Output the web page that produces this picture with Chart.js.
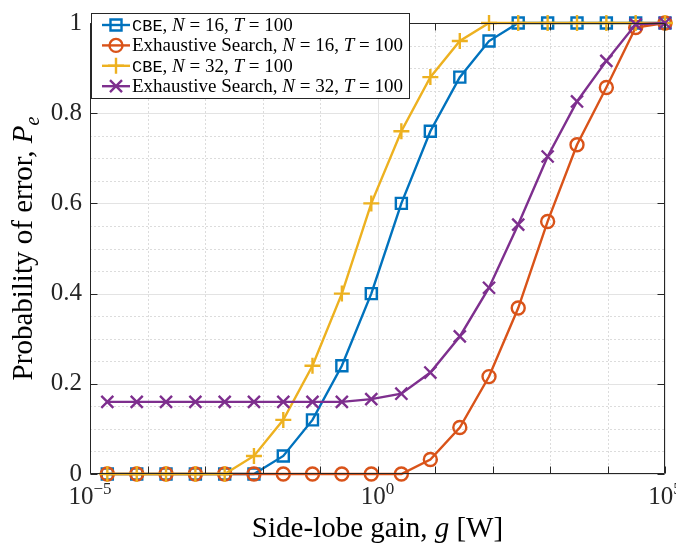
<!DOCTYPE html>
<html>
<head>
<meta charset="utf-8">
<script src="https://cdn.jsdelivr.net/npm/chart.js@4.4.0/dist/chart.umd.min.js"></script>
<style>
  html, body { margin: 0; padding: 0; background: #fff; }
</style>
</head>
<body>
<canvas id="c" width="676" height="548"></canvas>
<script>
// 旁瓣增益 g [W]（横轴，对数刻度）
const gainW = [2.0e-5, 6.5e-5, 2.1e-4, 6.8e-4, 2.2e-3, 7.1e-3, 2.3e-2, 7.4e-2, 0.24, 0.78,
               2.6, 8.3, 27, 87, 280, 910, 2950, 9550, 30900, 1e5];

// 误差概率 Pe
const peCbe16 = [0, 0, 0, 0, 0, 0, 0.04, 0.12, 0.24, 0.40, 0.60, 0.76, 0.88, 0.96, 1, 1, 1, 1, 1, 1];
const peEs16  = [0, 0, 0, 0, 0, 0, 0, 0, 0, 0, 0, 0.032, 0.103, 0.216, 0.368, 0.56, 0.73, 0.857, 0.99, 1];
const peCbe32 = [0, 0, 0, 0, 0, 0.04, 0.12, 0.24, 0.40, 0.60, 0.76, 0.88, 0.96, 1, 1, 1, 1, 1, 1, 1];
const peEs32  = [0.16, 0.16, 0.16, 0.16, 0.16, 0.16, 0.16, 0.16, 0.16, 0.166, 0.178, 0.225, 0.305, 0.413,
                 0.553, 0.704, 0.826, 0.916, 0.997, 1];

// 图例
const methodNames = ['CBE', 'Exhaustive Search', 'CBE', 'Exhaustive Search'];
const antennaN = [16, 16, 32, 32];
const slotsT = 100;

// 刻度
const xDecades = [-5, -4, -3, -2, -1, 0, 1, 2, 3, 4, 5];
const xLabelExp = [-5, 0, 5];
const yMajor = [0, 0.2, 0.4, 0.6, 0.8, 1];
const yMinorStep = 0.05;

const SERIF = "'Liberation Serif', 'DejaVu Serif', serif";
const MONO = "'Liberation Mono', 'DejaVu Sans Mono', monospace";
const AXIS = '#262626';
const COLORS = ['#0072BD', '#D95319', '#EDB120', '#7E2F8E'];
const STYLES = [
    { pointStyle: 'rect', radius: 7.8 },
    { pointStyle: 'circle', radius: 6.5 },
    { pointStyle: 'cross', radius: 8 },
    { pointStyle: 'crossRot', radius: 8.5 }
];

function series(i, values) {
    return {
        label: methodNames[i] + ', N = ' + antennaN[i] + ', T = ' + slotsT,
        data: values.map((v, k) => ({ x: gainW[k], y: v })),
        borderColor: COLORS[i],
        backgroundColor: 'rgba(0,0,0,0)',
        borderWidth: 2.4,
        pointStyle: STYLES[i].pointStyle,
        pointRadius: STYLES[i].radius,
        pointBorderWidth: 2.4,
        pointBorderColor: COLORS[i],
        pointBackgroundColor: 'rgba(0,0,0,0)',
        tension: 0,
        clip: false,
        order: 4 - i   // 后画的在上层，和 MATLAB 一致
    };
}

function drawRuns(ctx, runs, x, y, align) {
    let w = 0;
    runs.forEach(r => { ctx.font = r.font; w += ctx.measureText(r.text).width; });
    let cx = align === 'center' ? x - w / 2 : x;
    runs.forEach(r => {
        ctx.font = r.font;
        ctx.fillText(r.text, cx, y + (r.dy || 0));
        cx += ctx.measureText(r.text).width;
    });
}

const matlabAxes = {
    id: 'matlabAxes',
    beforeDatasetsDraw(chart) {
        const { ctx, chartArea: a, scales: { x, y } } = chart;
        ctx.save();
        ctx.lineWidth = 1;
        // 次网格（虚线）
        ctx.strokeStyle = '#dcdcdc';
        ctx.setLineDash([2, 2]);
        ctx.beginPath();
        const nMinor = Math.round(1 / yMinorStep);
        for (let i = 1; i < nMinor; i++) {
            if (i % 4 === 0) continue;
            const py = Math.round(y.getPixelForValue(i * yMinorStep)) + 0.5;
            ctx.moveTo(a.left, py); ctx.lineTo(a.right, py);
        }
        xDecades.forEach(e => {
            if (xLabelExp.includes(e)) return;
            const px = Math.round(x.getPixelForValue(Math.pow(10, e))) + 0.5;
            ctx.moveTo(px, a.top); ctx.lineTo(px, a.bottom);
        });
        ctx.stroke();
        // 主网格
        ctx.setLineDash([]);
        ctx.strokeStyle = '#e3e3e3';
        ctx.beginPath();
        yMajor.forEach(v => {
            const py = Math.round(y.getPixelForValue(v)) + 0.5;
            ctx.moveTo(a.left, py); ctx.lineTo(a.right, py);
        });
        xLabelExp.forEach(e => {
            const px = Math.round(x.getPixelForValue(Math.pow(10, e))) + 0.5;
            ctx.moveTo(px, a.top); ctx.lineTo(px, a.bottom);
        });
        ctx.stroke();
        ctx.restore();
    },
    afterDatasetsDraw(chart) {
        const { ctx, chartArea: a, scales: { x, y } } = chart;
        ctx.save();
        // 边框和内向刻度
        ctx.strokeStyle = AXIS;
        ctx.lineWidth = 1;
        ctx.beginPath();
        const L = Math.round(a.left) + 0.5, R = Math.round(a.right) - 0.5;
        const T = Math.round(a.top) + 0.5, B = Math.round(a.bottom) - 0.5;
        ctx.rect(L, T, R - L, B - T);
        const tick = 7;
        yMajor.forEach(v => {
            const py = Math.round(y.getPixelForValue(v)) + 0.5;
            ctx.moveTo(L, py); ctx.lineTo(L + tick, py);
            ctx.moveTo(R, py); ctx.lineTo(R - tick, py);
        });
        xDecades.forEach(e => {
            const px = Math.round(x.getPixelForValue(Math.pow(10, e))) + 0.5;
            ctx.moveTo(px, B); ctx.lineTo(px, B - tick);
            ctx.moveTo(px, T); ctx.lineTo(px, T + tick);
        });
        ctx.stroke();

        // 图例
        const bx = 91.5, by = 13.5, bw = 318, bh = 85;
        ctx.fillStyle = '#fff';
        ctx.fillRect(bx, by, bw, bh);
        ctx.strokeStyle = AXIS;
        ctx.strokeRect(bx, by, bw, bh);
        chart.data.datasets.forEach((ds, i) => {
            const cy = 25 + i * 20.4;
            ctx.strokeStyle = ds.borderColor;
            ctx.lineWidth = ds.borderWidth;
            ctx.beginPath();
            ctx.moveTo(102, cy); ctx.lineTo(130, cy);
            ctx.stroke();
            ctx.fillStyle = 'rgba(0,0,0,0)';
            Chart.helpers.drawPoint(ctx, {
                pointStyle: ds.pointStyle, radius: ds.pointRadius, rotation: 0, borderWidth: ds.pointBorderWidth
            }, 116, cy);
            ctx.fillStyle = '#000';
            ctx.textBaseline = 'alphabetic';
            ctx.textAlign = 'left';
            const isCbe = methodNames[i] === 'CBE';
            drawRuns(ctx, [
                { text: methodNames[i], font: isCbe ? '17px ' + MONO : '19px ' + SERIF },
                { text: ', ', font: '19px ' + SERIF },
                { text: 'N', font: 'italic 19px ' + SERIF },
                { text: ' = ' + antennaN[i] + ', ', font: '19px ' + SERIF },
                { text: 'T', font: 'italic 19px ' + SERIF },
                { text: ' = ' + slotsT, font: '19px ' + SERIF }
            ], 132, cy + 6, 'left');
        });
        ctx.restore();
    },
    afterDraw(chart) {
        const { ctx, chartArea: a, scales: { x } } = chart;
        ctx.save();
        ctx.fillStyle = AXIS;
        ctx.textAlign = 'left';
        ctx.textBaseline = 'alphabetic';
        // 横轴刻度标签 10^n
        xLabelExp.forEach(e => {
            const px = x.getPixelForValue(Math.pow(10, e));
            drawRuns(ctx, [
                { text: '10', font: '25px ' + SERIF },
                { text: e < 0 ? '\u2212' + (-e) : String(e), font: '17px ' + SERIF, dy: -10 }
            ], px, 504, 'center');
        });
        // 横轴标题
        ctx.fillStyle = '#000';
        drawRuns(ctx, [
            { text: 'Side-lobe gain, ', font: '29px ' + SERIF },
            { text: 'g', font: 'italic 29px ' + SERIF },
            { text: ' [W]', font: '29px ' + SERIF }
        ], (a.left + a.right) / 2, 537, 'center');
        // 纵轴标题
        ctx.translate(32, (a.top + a.bottom) / 2);
        ctx.rotate(-Math.PI / 2);
        drawRuns(ctx, [
            { text: 'Probability of error, ', font: '29px ' + SERIF },
            { text: 'P', font: 'italic 29px ' + SERIF },
            { text: 'e', font: 'italic 20px ' + SERIF, dy: 7 }
        ], 0, 0, 'center');
        ctx.restore();
    }
};

new Chart(document.getElementById('c'), {
    type: 'line',
    data: {
        datasets: [
            series(0, peCbe16),
            series(1, peEs16),
            series(2, peCbe32),
            series(3, peEs32)
        ]
    },
    options: {
        responsive: false,
        animation: false,
        layout: { padding: { top: 13, right: 11, left: 0, bottom: 0 } },
        plugins: { legend: { display: false }, tooltip: { enabled: false } },
        scales: {
            x: {
                type: 'logarithmic',
                min: 1e-5,
                max: 1e5,
                grid: { display: false, drawTicks: false },
                border: { display: false },
                ticks: { display: false },
                afterFit: s => { s.height = 74; }
            },
            y: {
                min: 0,
                max: 1,
                grid: { display: false, drawTicks: false },
                border: { display: false },
                ticks: {
                    stepSize: 0.2,
                    padding: 8,
                    color: AXIS,
                    font: { family: SERIF, size: 25 },
                    callback: v => String(+v.toFixed(1))
                },
                afterFit: s => { s.width = 90; }
            }
        }
    },
    plugins: [matlabAxes]
});
</script>
</body>
</html>
